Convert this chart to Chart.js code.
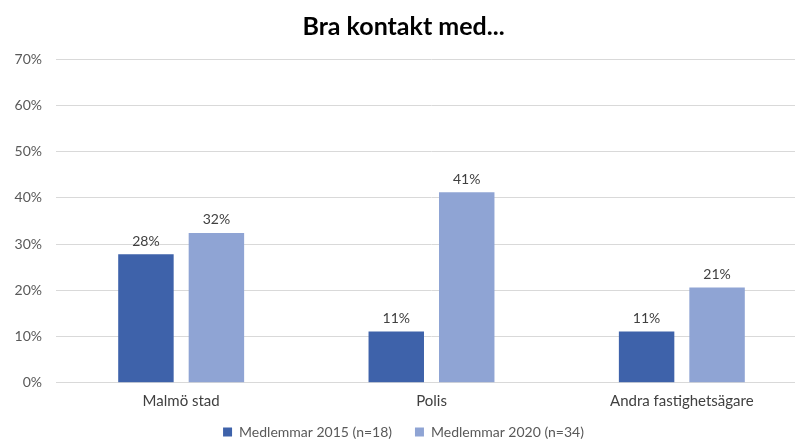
<!DOCTYPE html>
<html>
<head>
<meta charset="utf-8">
<script src="https://cdn.jsdelivr.net/npm/chart.js@4"></script>
<style>
    html, body { margin: 0; padding: 0; background: #fff; overflow: hidden; }
    #wrap { width: 825px; height: 440px; }
</style>
</head>
<body>
<div id="wrap"><canvas id="chart"></canvas></div>
<script>
const categories = ["Malmö stad", "Polis", "Andra fastighetsägare"];
const members_2015 = [27.8, 11.1, 11.1];
const members_2020 = [32.4, 41.2, 20.6];
const series_names = ["Medlemmar 2015 (n=18)", "Medlemmar 2020 (n=34)"];
const y_ticks = [0, 10, 20, 30, 40, 50, 60, 70];

const font_family = "Lato, 'Noto Sans', sans-serif";

// skriver procenten ovanför staplarna
const bar_labels = {
    id: "bar_labels",
    afterDatasetsDraw(chart) {
        let ctx = chart.ctx;
        ctx.save();
        ctx.fillStyle = "#404040";
        ctx.font = "14px " + font_family;
        ctx.textAlign = "center";
        ctx.textBaseline = "bottom";
        chart.data.datasets.forEach((ds, i) => {
            chart.getDatasetMeta(i).data.forEach((bar, j) => {
                ctx.fillText(Math.round(ds.data[j]) + "%", bar.x, bar.y - 6);
            });
        });
        ctx.restore();
    }
};

new Chart(document.getElementById("chart"), {
    type: "bar",
    data: {
        labels: categories,
        datasets: [{
            label: series_names[0],
            data: members_2015,
            backgroundColor: "#3E62AA",
            categoryPercentage: 0.563,
            barPercentage: 0.787
        }, {
            label: series_names[1],
            data: members_2020,
            backgroundColor: "#8FA4D4",
            categoryPercentage: 0.563,
            barPercentage: 0.787
        }]
    },
    options: {
        responsive: true,
        maintainAspectRatio: false,
        animation: false,
        layout: { padding: { left: 0, right: 18, top: 0, bottom: -9 } },
        plugins: {
            title: {
                display: true,
                text: "Bra kontakt med...",
                color: "#000",
                font: { family: font_family, size: 25, weight: "bold" },
                padding: { top: 12, bottom: 17 }
            },
            legend: {
                position: "bottom",
                labels: {
                    boxWidth: 9,
                    boxHeight: 9,
                    color: "#595959",
                    font: { family: font_family, size: 14 },
                    padding: 5,
                    // lite extra luft mellan posterna
                    generateLabels: (chart) => {
                        let items = Chart.defaults.plugins.legend.labels.generateLabels(chart);
                        items.forEach((item, i) => {
                            if (i < items.length - 1) item.text += "\u00a0\u00a0\u00a0\u00a0\u00a0";
                        });
                        return items;
                    }
                }
            },
            tooltip: { enabled: false }
        },
        scales: {
            x: {
                grid: { display: false, drawTicks: false },
                border: { color: "#D9D9D9" },
                ticks: {
                    color: "#404040",
                    font: { family: font_family, size: 15, lineHeight: 0.75 },
                    padding: 13
                }
            },
            y: {
                min: 0,
                max: 70,
                afterFit: (scale) => { scale.width = 56; },
                afterBuildTicks: (scale) => {
                    scale.ticks = y_ticks.map(v => ({ value: v }));
                },
                grid: { color: "#D9D9D9", drawTicks: false },
                border: { display: false },
                ticks: {
                    color: "#595959",
                    font: { family: font_family, size: 14 },
                    padding: 14,
                    callback: (v) => v + "%"
                }
            }
        }
    },
    plugins: [bar_labels]
});
</script>
</body>
</html>
